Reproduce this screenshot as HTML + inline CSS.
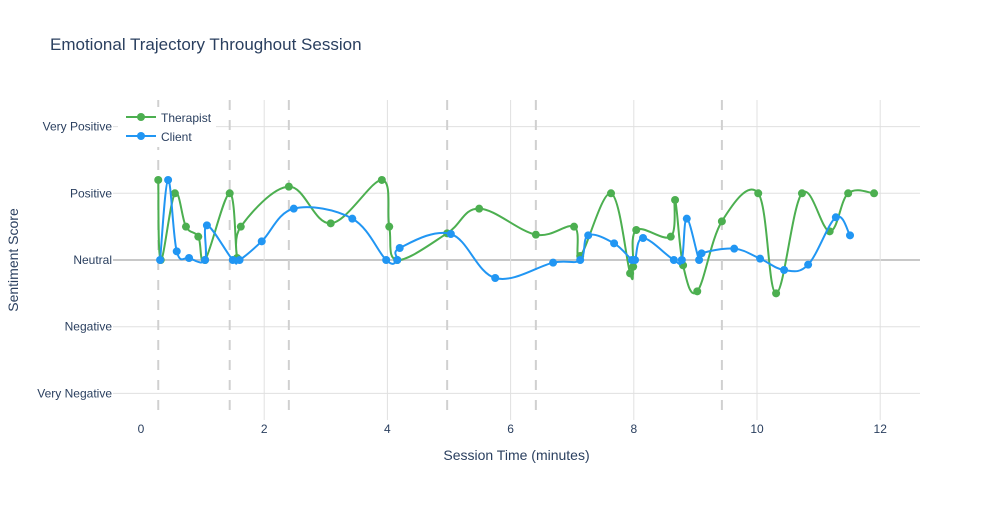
<!DOCTYPE html>
<html><head><meta charset="utf-8"><style>
body{margin:0;background:#fff;font-family:"Liberation Sans",Arial,sans-serif;}
svg text{font-family:"Liberation Sans",Arial,sans-serif;fill:#2a3f5f;}
</style></head><body>
<svg id="chart" width="1000" height="500" viewBox="0 0 1000 500" xmlns="http://www.w3.org/2000/svg">
<rect width="1000" height="500" fill="#fff"/>
<text x="50" y="50" font-size="17">Emotional Trajectory Throughout Session</text>
<g id="grid"></g><g id="series"></g>
<text x="516.5" y="460" font-size="14" text-anchor="middle">Session Time (minutes)</text>
<text transform="translate(18,260) rotate(-90)" font-size="14" text-anchor="middle">Sentiment Score</text>
<g>
<rect x="118" y="107" width="98" height="40" fill="#fff"/>
<g><line x1="126" y1="117" x2="156" y2="117" stroke="#4caf50" stroke-width="2"/><circle cx="141" cy="117" r="4" fill="#4caf50"/><text x="161" y="122" font-size="12">Therapist</text></g>
<g><line x1="126" y1="136" x2="156" y2="136" stroke="#2196f3" stroke-width="2"/><circle cx="141" cy="136" r="4" fill="#2196f3"/><text x="161" y="141" font-size="12">Client</text></g>
</g>
</svg>
<script>
const xTicks=[0,2,4,6,8,10,12];
const yTicks=[2,1,0,-1,-2];
const yLabels=["Very Positive","Positive","Neutral","Negative","Very Negative"];
const markers=[0.28,1.44,2.40,4.97,6.41,9.43];
const therT=[0.28,0.32,0.55,0.73,0.93,1.04,1.44,1.56,1.62,2.40,3.08,3.91,4.03,4.16,4.97,5.49,6.41,7.03,7.13,7.63,7.94,7.99,8.04,8.6,8.67,8.8,9.03,9.43,10.02,10.31,10.73,11.18,11.48,11.9];
const therV=[1.2,0,1,0.5,0.35,0,1,0.03,0.5,1.1,0.55,1.2,0.5,0,0.4,0.77,0.38,0.5,0.06,1,-0.2,-0.1,0.45,0.35,0.9,-0.08,-0.47,0.58,1,-0.5,1,0.43,1,1];
const cliT=[0.31,0.44,0.58,0.78,1.04,1.07,1.49,1.6,1.96,2.48,3.43,3.98,4.16,4.2,5.03,5.75,6.69,7.13,7.26,7.68,7.97,8.02,8.15,8.65,8.78,8.86,9.06,9.1,9.63,10.05,10.44,10.83,11.28,11.51];
const cliV=[0,1.2,0.13,0.03,0,0.52,0,0,0.28,0.77,0.62,0,0,0.18,0.39,-0.27,-0.04,0,0.37,0.25,0,0,0.33,0,0,0.62,0,0.1,0.17,0.02,-0.15,-0.07,0.64,0.37];
const X=t=>141+t*61.6, Y=v=>260-v*66.7;
const NS="http://www.w3.org/2000/svg";
function mk(tag,attrs,parent){const e=document.createElementNS(NS,tag);for(const k in attrs)e.setAttribute(k,attrs[k]);parent.appendChild(e);return e;}
const grid=document.getElementById('grid'),ser=document.getElementById('series');
yTicks.forEach((v,i)=>{
 const l=mk('line',{x1:113,x2:920,y1:Y(v),y2:Y(v),stroke:v===0?'#c8c8c8':'#e0e0e0','stroke-width':v===0?2:1},grid);
 
 
 const t=mk('text',{x:112,y:Y(v)+4,'font-size':12,'text-anchor':'end'},grid);t.textContent=yLabels[i];
 
 
});
xTicks.forEach(v=>{
 if(v>0){const l=mk('line',{x1:X(v),x2:X(v),y1:100,y2:420,stroke:'#e0e0e0'},grid);
 
 }
 const t=mk('text',{x:X(v),y:433,'font-size':12,'text-anchor':'middle'},grid);t.textContent=v;
 
 
});
markers.forEach(v=>{const l=mk('line',{x1:X(v),x2:X(v),y1:100,y2:420,stroke:'#d0d0d0','stroke-width':2,'stroke-dasharray':'10,10'},grid);
 
 });
function spline(p){let d=`M${p[0][0]},${p[0][1]}`;const s=0.18;
 for(let i=0;i<p.length-1;i++){const p0=p[i-1]||p[i],p1=p[i],p2=p[i+1],p3=p[i+2]||p2;
  d+=` C${p1[0]+(p2[0]-p0[0])*s},${p1[1]+(p2[1]-p0[1])*s} ${p2[0]-(p3[0]-p1[0])*s},${p2[1]-(p3[1]-p1[1])*s} ${p2[0]},${p2[1]}`;}
 return d;}
function draw(ts,vs,col,name){const pts=ts.map((t,i)=>[X(t),Y(vs[i])]);
 const p=mk('path',{d:spline(pts),fill:'none',stroke:col,'stroke-width':2},ser);
 
 
 pts.forEach(q=>{const c=mk('circle',{cx:q[0],cy:q[1],r:4,fill:col},ser);
  
  });}
draw(therT,therV,'#4caf50','therapist');
draw(cliT,cliV,'#2196f3','client');
</script>
</body></html>
